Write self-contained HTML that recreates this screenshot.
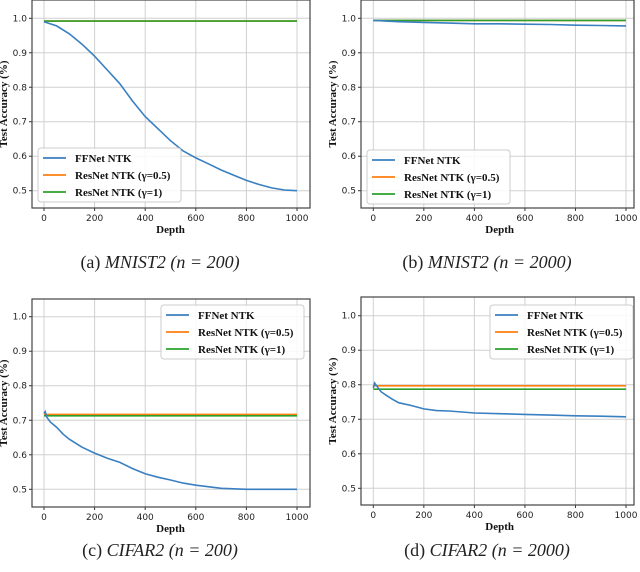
<!DOCTYPE html>
<html><head><meta charset="utf-8"><style>
body{margin:0;background:#fff;width:640px;height:572px;overflow:hidden}
svg{display:block}
.tick{font-family:"DejaVu Sans",sans-serif;font-size:9px;fill:#222}
.lab{font-family:"Liberation Serif",serif;font-weight:bold;font-size:11px;fill:#111}
.leg{font-family:"Liberation Serif",serif;font-weight:bold;font-size:11px;fill:#111}
.cap{font-family:"Liberation Serif",serif;font-size:18px;fill:#222}
</style></head><body>
<svg id="chart" width="640" height="572" xmlns="http://www.w3.org/2000/svg"></svg>
<script>
const xTicks=[0,200,400,600,800,1000];
const yTicks=[0.5,0.6,0.7,0.8,0.9,1.0];
const seriesNames=["FFNet NTK","ResNet NTK (γ=0.5)","ResNet NTK (γ=1)"];
const colors=["#3a7fc0","#ff7f0e","#2ca02c"];
const aDepth=[0,50,100,150,200,250,300,350,400,450,500,550,600,650,700,750,800,850,900,950,1000];
const aFF=[0.99,0.978,0.955,0.925,0.89,0.85,0.81,0.76,0.715,0.68,0.645,0.615,0.595,0.578,0.56,0.545,0.53,0.518,0.508,0.502,0.5];
const aRes05=[0.992,0.992];
const aRes1=[0.992,0.992];
const bDepth=[0,100,200,300,400,500,600,700,800,900,1000];
const bFF=[0.994,0.99,0.988,0.986,0.984,0.984,0.983,0.982,0.98,0.979,0.978];
const bRes05=[0.994,0.994];
const bRes1=[0.994,0.994];
const cDepth=[0,5,10,25,50,75,100,150,200,250,300,350,400,450,500,550,600,700,800,1000];
const cFF=[0.72,0.725,0.71,0.695,0.68,0.66,0.645,0.622,0.605,0.59,0.578,0.56,0.545,0.535,0.527,0.518,0.512,0.503,0.5,0.5];
const cRes05=[0.717,0.717];
const cRes1=[0.713,0.713];
const dDepth=[0,5,10,20,30,50,75,100,150,200,250,300,400,500,600,700,800,900,1000];
const dFF=[0.79,0.805,0.8,0.79,0.78,0.77,0.758,0.748,0.74,0.73,0.725,0.724,0.718,0.716,0.714,0.712,0.71,0.709,0.707];
const dRes05=[0.797,0.797];
const dRes1=[0.787,0.787];
const flatDepth=[0,1000];

const NS="http://www.w3.org/2000/svg";
const svg=document.getElementById('chart');
function mk(t,a,p){const e=document.createElementNS(NS,t);for(const k in a)e.setAttribute(k,a[k]);(p||svg).appendChild(e);return e;}

const panels=[
 {id:'a',box:[32,0,310,208],x0:44,x1:297,y10:18.3,y05:190.7,ff:[aDepth,aFF],r05:aRes05,r1:aRes1,leg:[38,148],cap:["(a)","MNIST2 (","n"," = 200)"],capx:160,capy:268},
 {id:'b',box:[361,0,634,208],x0:373.3,x1:626,y10:18.3,y05:190.7,ff:[bDepth,bFF],r05:bRes05,r1:bRes1,leg:[367,150],cap:["(b)","MNIST2 (","n"," = 2000)"],capx:487,capy:268},
 {id:'c',box:[32,299,310,507],x0:44,x1:297,y10:316.7,y05:489.3,ff:[cDepth,cFF],r05:cRes05,r1:cRes1,leg:[161,305],cap:["(c)","CIFAR2 (","n"," = 200)"],capx:160,capy:556},
 {id:'d',box:[361,297,634,505],x0:373.3,x1:626,y10:315.7,y05:488.3,ff:[dDepth,dFF],r05:dRes05,r1:dRes1,leg:[490,305],cap:["(d)","CIFAR2 (","n"," = 2000)"],capx:487,capy:556}
];
panels.forEach(P=>{
 const g=mk('g',{});
 
 
 const sx=v=>P.x0+(P.x1-P.x0)*v/1000;
 const sy=v=>P.y05+(P.y10-P.y05)*(v-0.5)/0.5;
 const [L,T,R,B]=P.box;
 xTicks.forEach(t=>{
  const gl=mk('line',{x1:sx(t),x2:sx(t),y1:T,y2:B,stroke:'#d0d0d0','stroke-width':1},g);
  
  mk('line',{x1:sx(t),x2:sx(t),y1:B,y2:B+3,stroke:'#333'},g);
  const tx=mk('text',{x:sx(t),y:B+13,'text-anchor':'middle',class:'tick'},g);tx.textContent=t;
  
 });
 yTicks.forEach(t=>{
  const gl=mk('line',{x1:L,x2:R,y1:sy(t),y2:sy(t),stroke:'#d0d0d0','stroke-width':1},g);
  
  mk('line',{x1:L-3,x2:L,y1:sy(t),y2:sy(t),stroke:'#333'},g);
  const tx=mk('text',{x:L-5,y:sy(t)+3,'text-anchor':'end',class:'tick'},g);tx.textContent=t.toFixed(1);
  
 });
 const lines=[[flatDepth,P.r05,colors[1]],[flatDepth,P.r1,colors[2]],[P.ff[0],P.ff[1],colors[0]]];
 const names=['line-resnet-0.5','line-resnet-1','line-ffnet'];
 lines.forEach((ln,i)=>{
  const pts=ln[0].map((d,k)=>sx(d).toFixed(1)+','+sy(ln[1][k]).toFixed(1)).join(' ');
  const pl=mk('polyline',{points:pts,fill:'none',stroke:ln[2],'stroke-width':1.6},g);
  
 });
 const fr=mk('rect',{x:L,y:T,width:R-L,height:B-T,fill:'none',stroke:'#444','stroke-width':1.2},g);
 
 const xl=mk('text',{x:(P.x0+P.x1)/2,y:B+25,'text-anchor':'middle',class:'lab'},g);xl.textContent='Depth';
 
 const yc=(T+B)/2, yx=L-25;
 const yl=mk('text',{x:yx,y:yc,'text-anchor':'middle',class:'lab',transform:`rotate(-90 ${yx} ${yc})`},g);yl.textContent='Test Accuracy (%)';
 
 const lg=mk('g',{},g);
 
 const [lx,ly]=P.leg;
 mk('rect',{x:lx,y:ly,width:143,height:54,rx:3,fill:'rgba(255,255,255,0.85)',stroke:'#ccc'},lg);
 seriesNames.forEach((n,i)=>{
  const yy=ly+10+i*17;
  const ll=mk('line',{x1:lx+5,x2:lx+28,y1:yy,y2:yy,stroke:colors[i],'stroke-width':1.8},lg);
  
  const t=mk('text',{x:lx+37,y:yy+4,class:'leg'},lg);t.textContent=n;
  
 });
 const c=mk('text',{x:P.capx,y:P.capy,'text-anchor':'middle',class:'cap'},g);
 
 const s1=mk('tspan',{},c);s1.textContent=P.cap[0]+'  ';
 const s2=mk('tspan',{'font-style':'italic'},c);s2.textContent=P.cap[1];
 const s3=mk('tspan',{'font-style':'italic'},c);s3.textContent=P.cap[2];
 const s4=mk('tspan',{'font-style':'italic'},c);s4.textContent=P.cap[3];
});
</script>
</body></html>
